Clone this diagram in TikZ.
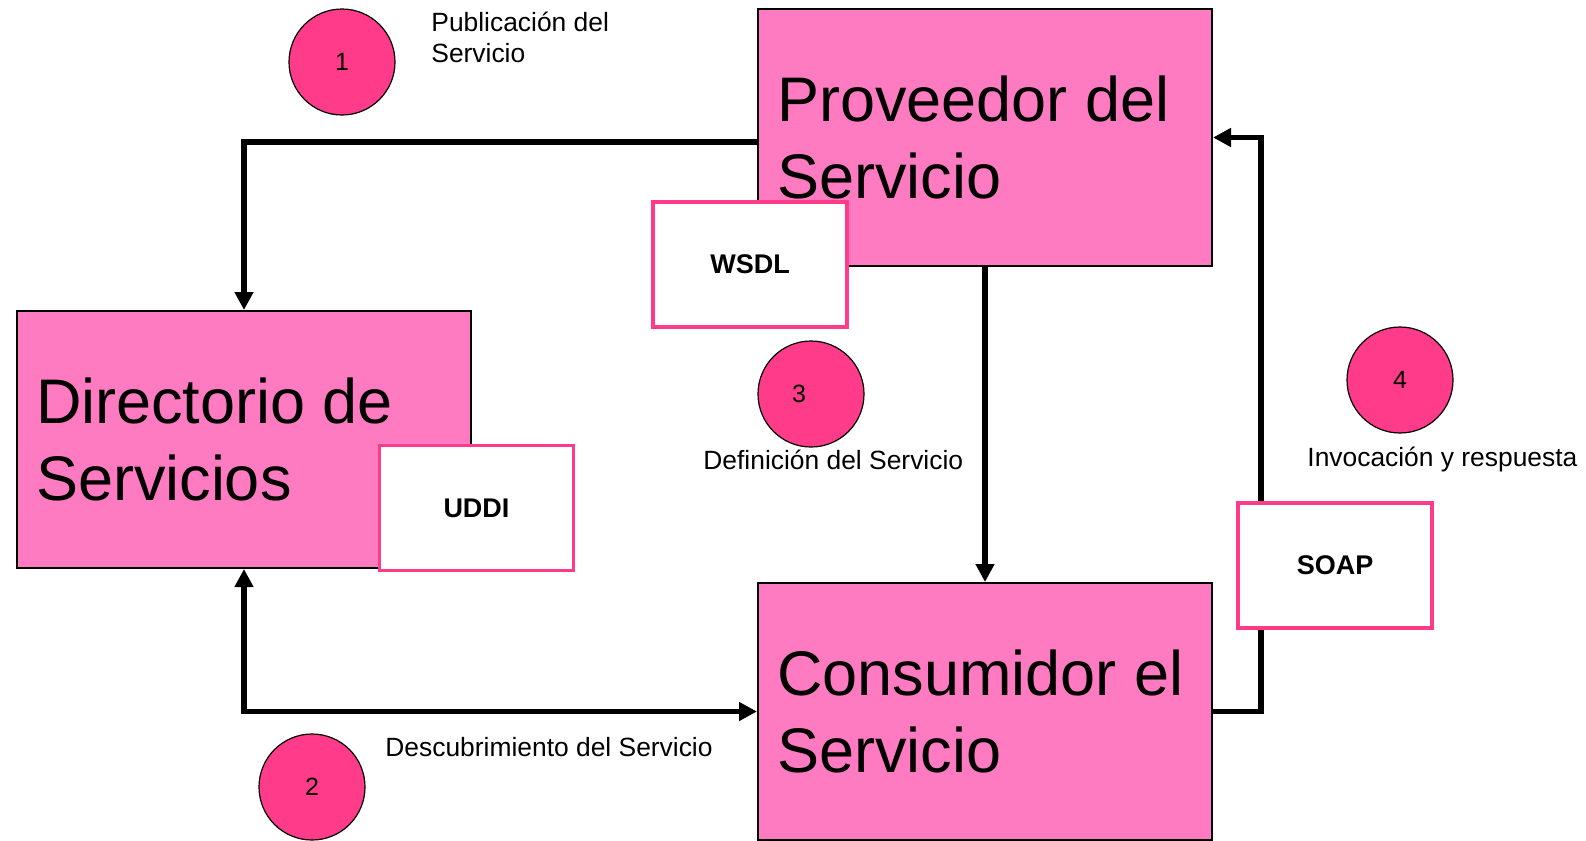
\documentclass[tikz,border=0pt]{standalone}
\usepackage{fontspec}
\setmainfont{Liberation Sans}
\usetikzlibrary{arrows.meta}

\definecolor{boxpink}{HTML}{FF7BC1}
\definecolor{dotpink}{HTML}{FF3B8A}

\tikzset{
  actor/.style={rectangle,draw=black,line width=1pt,fill=boxpink,inner xsep=9.5pt,inner ysep=0pt,text width=208pt,minimum height=128.5pt,align=left,font=\fontsize{31.5}{38.5}\selectfont,execute at begin node={\spaceskip=0pt\xspaceskip=0pt}},
  tag/.style={rectangle,draw=dotpink,line width=1.8pt,fill=white,minimum width=97pt,minimum height=62.5pt,inner sep=0pt,font=\fontsize{13.5}{16}\selectfont\bfseries},
  num/.style={circle,draw=black,line width=0.6pt,fill=dotpink,minimum size=53pt,inner sep=0pt,font=\fontsize{12.5}{15}\selectfont},
  note/.style={inner sep=0pt,align=left,anchor=west,font=\fontsize{13.2}{15.5}\selectfont},
  flow/.style={line width=2.75pt,-{Triangle[length=9pt,width=9pt]}}
}

\begin{document}
\begin{tikzpicture}[x=0.5pt,y=-0.5pt]
\useasboundingbox (0,0) rectangle (1586,841);

% the three actors
\node[actor] (prov) at (985,137.5) {Proveedor del\\Servicio};
\node[actor] (dir) at (244,439.5) {Directorio de\\Servicios};
\node[actor] (cons) at (985,711.5) {Consumidor el\\Servicio};

% connectors
\draw[flow] ([yshift=-2.25pt]prov.west) -| (dir.north);
\draw[flow,{Triangle[length=9pt,width=9pt]}-{Triangle[length=9pt,width=9pt]}] (dir.south) |- (cons.west);
\draw[flow] (prov.south) -- (cons.north);
\draw[flow] (cons.east) -- ++(24pt,0) |- (prov.east);

% standards
\node[tag] (wsdl) at (750,264.5) {WSDL};
\node[tag] (uddi) at (476.5,508) {UDDI};
\node[tag] (soap) at (1335,565.5) {SOAP};

% steps
\node[num] (n1) at (342,62) {1};
\node[num] (n2) at (312,787) {2};
\node[num] (n3) at (811,394) {\kern-12pt 3};
\node[num] (n4) at (1400,380) {4};

\node[note] (l1) at (431,37.5) {Publicación del\\Servicio};
\node[note] (l2) at (385,747) {Descubrimiento del Servicio};
\node[note] (l3) at (703,460) {Definición del Servicio};
\node[note] (l4) at (1307,460) {Invocación y respuesta};

\end{tikzpicture}
\end{document}
